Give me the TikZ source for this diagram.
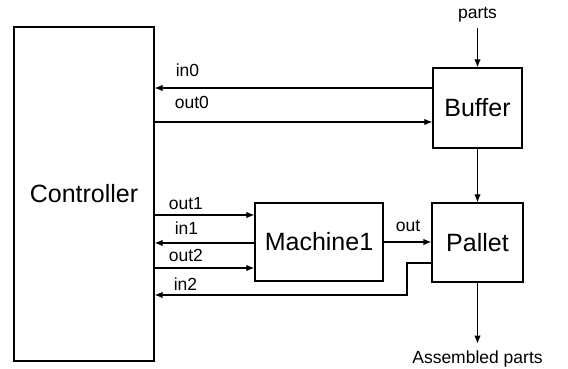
\documentclass[tikz,border=0pt]{standalone}
\usepackage{fontspec}
\setmainfont{Liberation Sans}
\usetikzlibrary{arrows.meta,calc}

\tikzset{
  block/.style={draw, line width=1.3pt, inner sep=0pt, font=\fontsize{25}{29}\selectfont},
  sig/.style={-{Latex[length=8pt,width=6.5pt]}, line width=1.1pt},
  sigtext/.style={font=\fontsize{17.5}{20}\selectfont, inner sep=0pt}
}

\begin{document}
\begin{tikzpicture}[x=1pt, y=1pt]

            \useasboundingbox (0,0) rectangle (568,369);

            \node[block, minimum width=140pt, minimum height=334pt] (ctrl) at (84,175) {Controller};
            \node[block, minimum width=89pt, minimum height=80pt] (buf) at (477.5,261) {Buffer};
            \node[block, minimum width=91pt, minimum height=79pt] (pal) at (477.5,126.5) {Pallet};
            \node[block, minimum width=128pt, minimum height=78pt] (mach) at (319,127) {Machine1};

            \node[sigtext] (partslbl) at (477.5,354) {parts};
            \node[sigtext] (asmlbl) at (477.5,10) {Assembled parts};

            \coordinate (in0y) at (0,281);
            \coordinate (out0y) at (0,247);
            \coordinate (out1y) at (0,154);
            \coordinate (in1y) at (0,126);
            \coordinate (out2y) at (0,101);
            \coordinate (in2y) at (0,74);
            \coordinate (palback) at (407,106);

            \draw[sig] (buf.west |- in0y) -- (ctrl.east |- in0y);
            \draw[sig] (ctrl.east |- out0y) -- (buf.west |- out0y);
            \draw[sig] (ctrl.east |- out1y) -- (mach.west |- out1y);
            \draw[sig] (mach.west |- in1y) -- (ctrl.east |- in1y);
            \draw[sig] (ctrl.east |- out2y) -- (mach.west |- out2y);
            \draw[sig] (pal.west |- palback) -- (palback) |- (ctrl.east |- in2y);
            \draw[sig] (mach.east) -- (mach.east -| pal.west);

            \draw[sig, shorten <=5pt] (partslbl) -- (buf.north);
            \draw[sig] (buf.south) -- (pal.north);
            \draw[sig, shorten >=7pt] (pal.south) -- (asmlbl);

            \node[sigtext, anchor=base west] at ($(ctrl.east |- in0y)+(21,11)$) {in0};
            \node[sigtext, anchor=base west] at ($(ctrl.east |- out0y)+(20,13)$) {out0};
            \node[sigtext, anchor=base west] at ($(ctrl.east |- out1y)+(14,5)$) {out1};
            \node[sigtext, anchor=base west] at ($(ctrl.east |- in1y)+(20,8)$) {in1};
            \node[sigtext, anchor=base west] at ($(ctrl.east |- out2y)+(14,6)$) {out2};
            \node[sigtext, anchor=base west] at ($(ctrl.east |- in2y)+(19,4)$) {in2};
            \node[sigtext, anchor=base west] at ($(mach.east)+(12,10)$) {out};

        \end{tikzpicture}
\end{document}
